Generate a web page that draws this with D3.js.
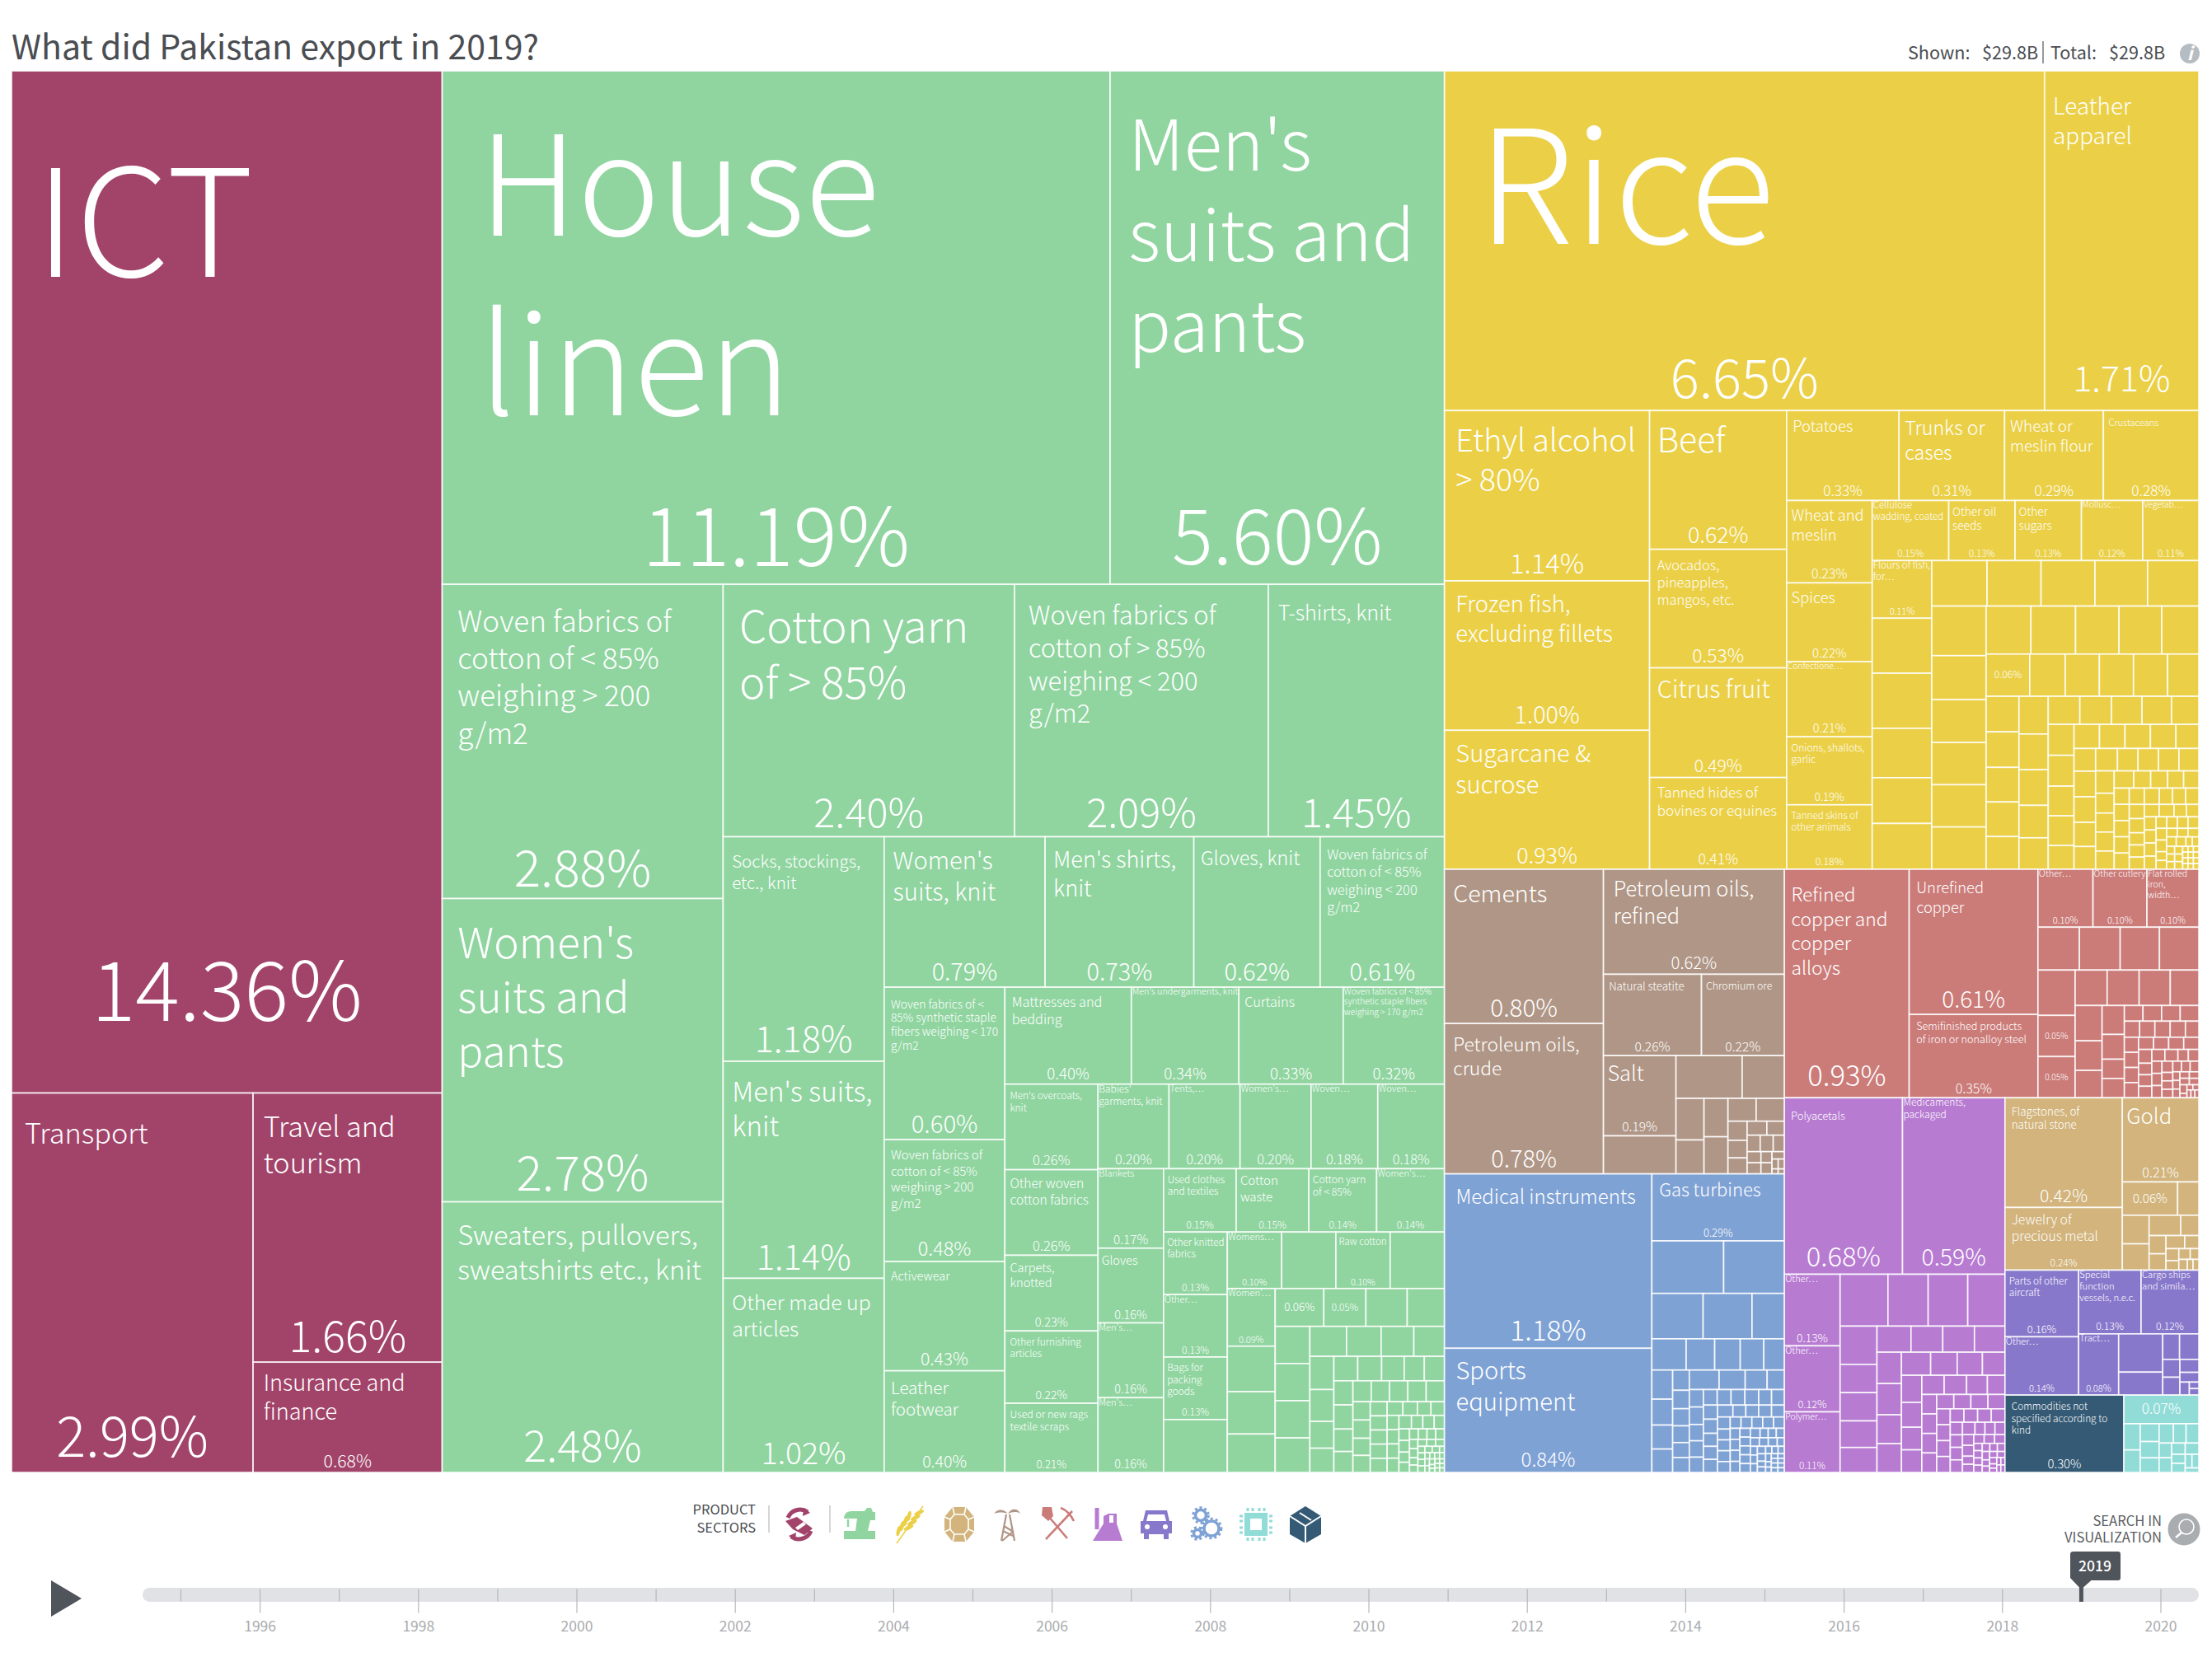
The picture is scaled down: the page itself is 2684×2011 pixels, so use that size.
<!DOCTYPE html>
<html>
<head>
<meta charset="utf-8">
<script src="https://cdnjs.cloudflare.com/ajax/libs/d3/7.8.5/d3.min.js"></script>
<style>
	html, body { margin: 0; padding: 0; background: #fff; }
	svg { display: block; }
	text { font-family: "Noto Sans CJK SC", "Noto Sans", Lato, sans-serif; }
</style>
</head>
<body>
<svg id="chart" width="2684" height="2011"></svg>
<script>
// Share of exports in percent. Tiles with no printed
// value were estimated from their area.
const servicesNames = ['ICT', 'Transport', 'Travel and tourism', 'Insurance and finance'];
const servicesValues = [14.36, 2.99, 1.66, 0.68];

const textileNames = ['House linen', "Men's suits and pants", 'Woven fabrics of cotton of < 85% weighing > 200 g/m2', "Women's suits and pants", 'Sweaters, pullovers, sweatshirts etc., knit',
	'Cotton yarn of > 85%', 'Woven fabrics of cotton of > 85% weighing < 200 g/m2', 'T-shirts, knit', 'Socks, stockings, etc., knit', "Men's suits, knit", 'Other made up articles',
	"Women's suits, knit", "Men's shirts, knit", 'Gloves, knit', 'Woven fabrics of cotton of < 85% weighing < 200 g/m2',
	'Woven fabrics of < 85% synthetic staple fibers weighing < 170 g/m2', 'Woven fabrics of cotton of < 85% weighing > 200 g/m2', 'Activewear', 'Leather footwear',
	'Mattresses and bedding', "Men's undergarments, knit", 'Curtains', 'Woven fabrics of < 85% synthetic staple fibers weighing > 170 g/m2',
	"Men's overcoats, knit", 'Other woven cotton fabrics', 'Carpets, knotted', 'Other furnishing articles', 'Used or new rags textile scraps',
	"Babies' garments, knit", 'Tents,…', "Women's…", 'Woven…', 'Woven…',
	'Blankets', 'Gloves', "Men's…", "Men's…",
	'Used clothes and textiles', 'Cotton waste', 'Cotton yarn of < 85%', "Women's…",
	'Other knitted fabrics', 'Other…', 'Bags for packing goods', null,
	'Womens…', null, 'Raw cotton', null,
	"Women'…", null, null, null,
	'', ''];
const textileValues = [11.19, 5.60, 2.88, 2.78, 2.48,
	2.40, 2.09, 1.45, 1.18, 1.14, 1.02,
	0.79, 0.73, 0.62, 0.61,
	0.60, 0.48, 0.43, 0.40,
	0.40, 0.34, 0.33, 0.32,
	0.26, 0.26, 0.23, 0.22, 0.21,
	0.196, 0.196, 0.196, 0.184, 0.184,
	0.17, 0.16, 0.16, 0.16,
	0.15, 0.15, 0.14, 0.14,
	0.13, 0.13, 0.13, 0.11,
	0.10, 0.10, 0.10, 0.10,
	0.09, 0.071, 0.066, 0.06,
	0.06, 0.052, 0.051, 0.046,
	0.042, 0.042, 0.042, 0.039,
	0.036, 0.034, 0.032, 0.030,
	0.026, 0.025, 0.021, 0.019,
	0.019, 0.019, 0.018, 0.016, 0.016,
	0.015, 0.015, 0.014, 0.013,
	0.0125, 0.0125, 0.0125, 0.0125, 0.0125,
	0.0103, 0.0103, 0.0097, 0.0096,
	0.0078, 0.0078, 0.0078, 0.0078, 0.0078,
	0.007, 0.0065, 0.006, 0.006,
	0.0055, 0.0055, 0.0055, 0.0055, 0.0055,
	0.005, 0.005, 0.0045, 0.004, 0.004,
	0.0035, 0.0035, 0.003, 0.003, 0.003, 0.003,
	0.0025, 0.0025, 0.002, 0.002, 0.002, 0.002, 0.002,
	0.0015, 0.0015, 0.0015, 0.0015, 0.0015, 0.0015,
	0.001, 0.001, 0.001, 0.001, 0.001, 0.001, 0.001, 0.001,
	0.0007, 0.0007, 0.0007, 0.0007, 0.0007, 0.0007, 0.0007, 0.0007];

const agricultureNames = ['Rice', 'Leather apparel', 'Ethyl alcohol > 80%', 'Frozen fish, excluding fillets', 'Sugarcane & sucrose',
	'Beef', 'Avocados, pineapples, mangos, etc.', 'Citrus fruit', 'Tanned hides of bovines or equines',
	'Potatoes', 'Trunks or cases', 'Wheat or meslin flour', 'Crustaceans',
	'Wheat and meslin', 'Spices', 'Confectione…', 'Onions, shallots, garlic', 'Tanned skins of other animals',
	'Cellulose wadding, coated', 'Other oil seeds', 'Other sugars', 'Mollusc…', 'Vegetab…',
	'Flours of fish, for…', null, null, null, null, null,
	null, null, null, null, null,
	null, null, null, null, null, null,
	null, null, null, null, null,
	''];
const agricultureValues = [6.65, 1.71, 1.14, 1.00, 0.93,
	0.62, 0.53, 0.49, 0.41,
	0.33, 0.31, 0.29, 0.28,
	0.23, 0.22, 0.21, 0.19, 0.18,
	0.15, 0.13, 0.13, 0.12, 0.11,
	0.112, 0.107, 0.107, 0.096, 0.089, 0.089,
	0.082, 0.080, 0.080, 0.078, 0.076,
	0.088, 0.078, 0.076, 0.075, 0.075, 0.075,
	0.070, 0.070, 0.068, 0.067, 0.058,
	0.06, 0.049, 0.047, 0.047, 0.047, 0.043,
	0.038, 0.038, 0.037, 0.037, 0.035,
	0.036, 0.034, 0.034, 0.031, 0.030,
	0.029, 0.029, 0.028, 0.027, 0.025,
	0.026, 0.026, 0.025, 0.025, 0.020, 0.020,
	0.020, 0.020, 0.020, 0.018, 0.016,
	0.018, 0.018, 0.017, 0.016, 0.016, 0.015,
	0.015, 0.015, 0.0145, 0.0135, 0.012,
	0.0115, 0.0115, 0.011, 0.011, 0.0095,
	0.0095, 0.009, 0.0085, 0.008, 0.008,
	0.008, 0.008, 0.008, 0.008, 0.008,
	0.007, 0.007, 0.007, 0.007, 0.007,
	0.006, 0.006, 0.006, 0.006, 0.006,
	0.005, 0.005, 0.005, 0.005, 0.005, 0.005,
	0.004, 0.004, 0.004, 0.004, 0.004, 0.004,
	0.003, 0.003, 0.003, 0.003, 0.003, 0.003, 0.003,
	0.002, 0.002, 0.002, 0.002, 0.002, 0.002, 0.002, 0.002,
	0.001, 0.001, 0.001, 0.001, 0.001, 0.001, 0.001, 0.001, 0.001, 0.001, 0.001, 0.001];

const stoneNames = ['Cements', 'Petroleum oils, crude', 'Petroleum oils, refined', 'Natural steatite', 'Chromium ore', 'Salt'];
const stoneValues = [0.80, 0.78, 0.62, 0.26, 0.22, 0.19, 0.09,
	0.0925, 0.059, 0.038, 0.031, 0.030, 0.029, 0.021, 0.021,
	0.012, 0.011, 0.010, 0.009, 0.008, 0.007, 0.007, 0.006, 0.005, 0.005, 0.004, 0.004, 0.003, 0.002, 0.002, 0.001, 0.001];

const machineryNames = ['Medical instruments', 'Sports equipment', 'Gas turbines'];
const machineryValues = [1.18, 0.84, 0.29, 0.123, 0.104,
	0.076, 0.0725, 0.048, 0.035, 0.029, 0.026, 0.024, 0.021,
	0.0198, 0.0176, 0.0163, 0.0159,
	0.011, 0.010, 0.0093, 0.0091, 0.0081, 0.0081,
	0.019, 0.0166, 0.014, 0.011,
	0.008, 0.008, 0.0075, 0.0075, 0.007,
	0.007, 0.007, 0.007, 0.007, 0.0065, 0.0065, 0.0065, 0.0065, 0.006, 0.006, 0.006, 0.006,
	0.005, 0.005, 0.005, 0.005, 0.005, 0.0045, 0.0045, 0.0045, 0.0045, 0.004, 0.004, 0.004, 0.004, 0.004,
	0.0035, 0.0035, 0.0035, 0.0035, 0.003, 0.003, 0.003, 0.003, 0.003, 0.003,
	0.0025, 0.0025, 0.0025, 0.0025, 0.0025, 0.0025, 0.002, 0.002, 0.002, 0.002, 0.002, 0.002,
	0.0015, 0.0015, 0.0015, 0.0015, 0.0015, 0.0015, 0.001, 0.001, 0.001, 0.001, 0.001, 0.001, 0.001, 0.001, 0.001, 0.001];

const metalsNames = ['Refined copper and copper alloys', 'Unrefined copper', 'Semifinished products of iron or nonalloy steel',
	'Other…', 'Other cutlery', 'Flat rolled iron, width…',
	null, null, null, null,
	null, '', ''];
const metalsValues = [0.93, 0.61, 0.35, 0.104, 0.102, 0.098,
	0.058, 0.057, 0.055, 0.055,
	0.055, 0.05, 0.05,
	0.037, 0.037, 0.036, 0.033,
	0.031, 0.026, 0.024,
	0.021, 0.018, 0.014, 0.014,
	0.0095, 0.0095, 0.0095, 0.0095, 0.008, 0.008, 0.008, 0.008,
	0.007, 0.007, 0.007, 0.007, 0.007,
	0.006, 0.006, 0.006, 0.006, 0.006,
	0.005, 0.005, 0.005, 0.005, 0.005,
	0.004, 0.004, 0.004, 0.004, 0.004, 0.004,
	0.003, 0.003, 0.003, 0.003, 0.003, 0.003,
	0.002, 0.002, 0.002, 0.002, 0.002, 0.002, 0.002, 0.002,
	0.001, 0.001, 0.001, 0.001, 0.001, 0.001];

const chemicalsNames = ['Polyacetals', 'Medicaments, packaged', 'Other…', 'Other…', 'Polymer…'];
const chemicalsValues = [0.68, 0.59, 0.13, 0.12, 0.11,
	0.081, 0.068, 0.067, 0.063,
	0.046, 0.034, 0.034, 0.032, 0.030,
	0.029, 0.027, 0.027, 0.026,
	0.025, 0.025, 0.023, 0.023,
	0.022, 0.020, 0.019, 0.017,
	0.018, 0.0165, 0.015, 0.015,
	0.014, 0.014, 0.013, 0.011,
	0.0095, 0.0095, 0.0095, 0.0095,
	0.008, 0.008, 0.008, 0.008,
	0.007, 0.007, 0.007, 0.007,
	0.006, 0.006, 0.006, 0.006,
	0.005, 0.005, 0.005, 0.005, 0.005,
	0.004, 0.004, 0.004, 0.004, 0.004,
	0.003, 0.003, 0.003, 0.003, 0.003,
	0.002, 0.002, 0.002, 0.002, 0.002, 0.002, 0.002, 0.002,
	0.0015, 0.0015, 0.0015, 0.0015, 0.0015,
	0.001, 0.001, 0.001, 0.001, 0.001, 0.001];

const mineralsNames = ['Flagstones, of natural stone', 'Jewelry of precious metal', 'Gold', ''];
const mineralsValues = [0.42, 0.24, 0.21, 0.06, 0.023,
	0.025, 0.023, 0.021,
	0.012, 0.010, 0.009, 0.008, 0.006, 0.005, 0.004, 0.004, 0.003, 0.003, 0.002, 0.002];

const vehiclesNames = ['Parts of other aircraft', 'Other…', 'Special function vessels, n.e.c.', 'Cargo ships and simila…', 'Tract…'];
const vehiclesValues = [0.16, 0.14, 0.13, 0.12, 0.08, 0.055, 0.033, 0.014, 0.016, 0.010, 0.010, 0.008, 0.006, 0.004, 0.002, 0.002];

const otherNames = ['Commodities not specified according to kind'];
const otherValues = [0.30];

const electronicsNames = [''];
const electronicsValues = [0.07, 0.014, 0.012, 0.011, 0.010, 0.009, 0.009, 0.008, 0.008, 0.006, 0.006, 0.005, 0.005, 0.004, 0.004, 0.003, 0.003, 0.002];

const labelYears = [1996, 1998, 2000, 2002, 2004, 2006, 2008, 2010, 2012, 2014, 2016, 2018, 2020];
const minorYears = [1995, 1997, 1999, 2001, 2003, 2005, 2007, 2009, 2011, 2013, 2015, 2017, 2019];
const currentYear = 2019;

// ---- styles ----
const px = 1.712;	// the font sizes below were measured on a 1568 wide copy

const nameFonts = {
	services: [106, 20, 20, 15.8],
	textile: [98.5, 50, 20.5, 30, 19, 31, 18, 14.7, 12, 19.3, 14.5, 17, 15.8, 13.5, 9.6, 8.1, 8.8, 8.5, 12, 9.5, 6.3, 9.5, 6,
		6.9, 9.1, 8.5, 6.9, 7.2, 7, 6.5, 6.5, 6.5, 6.5, 6.5, 8.5, 6.5, 6.5, 7, 8.8, 7.2, 6.5, 6.8, 6.5, 7, 7, 6.5, 7, 6.7, 7, 6.5, 7, 7, 7, 7, 7],
	agriculture: [112, 16.3, 22, 16, 17, 24, 9.6, 17, 10, 10.8, 13.5, 11, 6.5, 10.7, 10.7, 6, 7, 6.8, 6.7, 8, 8, 6, 6, 6.8],
	stone: [16.7, 13.3, 14.8, 7.8, 7.2, 14.8],
	machinery: [14, 17, 12.8],
	metals: [13.3, 10.7, 7.4, 6.5, 6.2, 6.2],
	chemicals: [7.6, 7, 6.5, 6.5, 6.2],
	minerals: [7.8, 9.2, 15],
	vehicles: [6.9, 6.5, 6.6, 6.6, 6.5],
	other: [6.9],
	electronics: [7]
};

// These names start right on the tile edge, the others get some padding
const flushNames = new Set(['Cellulose wadding, coated', "Men's undergarments, knit", 'Woven fabrics of < 85% synthetic staple fibers weighing > 170 g/m2',
	"Babies' garments, knit", 'Tents,…', "Women's…", 'Woven…', 'Blankets', 'Confectione…', 'Flours of fish, for…', 'Mollusc…', 'Vegetab…', 'Other…',
	'Other cutlery', 'Flat rolled iron, width…', 'Medicaments, packaged', 'Polymer…', 'Special function vessels, n.e.c.', 'Cargo ships and simila…',
	'Tract…', "Men's…", 'Womens…', "Women'…"]);

const sectors = [
	{key: 'services', color: '#A2446A', names: servicesNames, values: servicesValues},
	{key: 'textile', color: '#90D5A0', names: textileNames, values: textileValues},
	{key: 'agriculture', color: '#EBD047', names: agricultureNames, values: agricultureValues},
	{key: 'stone', color: '#B09686', names: stoneNames, values: stoneValues},
	{key: 'machinery', color: '#7FA2D5', names: machineryNames, values: machineryValues},
	{key: 'metals', color: '#CB7C79', names: metalsNames, values: metalsValues},
	{key: 'chemicals', color: '#B77BD2', names: chemicalsNames, values: chemicalsValues},
	{key: 'minerals', color: '#D2B47C', names: mineralsNames, values: mineralsValues},
	{key: 'vehicles', color: '#8878CC', names: vehiclesNames, values: vehiclesValues},
	{key: 'other', color: '#355A75', names: otherNames, values: otherValues},
	{key: 'electronics', color: '#92DCD8', names: electronicsNames, values: electronicsValues}
];

const svg = d3.select('#chart');
const treeX = 14, treeY = 86, treeW = 2654, treeH = 1701;

// ---- header ----
svg.append('text').attr('x', 14).attr('y', 72).attr('font-size', 41).attr('fill', '#4a4d52').text('What did Pakistan export in 2019?');
const headerBits = [['Shown:', 2315], ['$29.8B', 2405], ['Total:', 2488], ['$29.8B', 2559]];
svg.selectAll('.head').data(headerBits).enter().append('text')
	.attr('x', d => d[1]).attr('y', 72).attr('font-size', 21.6).attr('fill', '#4a4d52').text(d => d[0]);
svg.append('line').attr('x1', 2479).attr('x2', 2479).attr('y1', 50).attr('y2', 77).attr('stroke', '#555').attr('stroke-width', 1.2);
svg.append('circle').attr('cx', 2657).attr('cy', 65).attr('r', 12).attr('fill', '#b5bcc2');
svg.append('text').attr('x', 2657).attr('y', 73).attr('text-anchor', 'middle').attr('font-size', 22).attr('font-weight', 700)
	.attr('font-style', 'italic').attr('fill', '#fff').text('i');

// ---- treemap ----
const root = d3.hierarchy({
	children: sectors.map(s => ({
		key: s.key, color: s.color,
		children: s.values.map((v, i) => ({value: v, name: s.names[i], font: (nameFonts[s.key][i] || 7) * px}))
	}))
}).sum(d => d.children ? 0 : d.value);

d3.treemap()
	.tile(d3.treemapSquarify.ratio(1))
	.size([treeW, treeH])(root);

const tree = svg.append('g').attr('transform', `translate(${treeX},${treeY})`);
const leaves = tree.selectAll('g').data(root.leaves()).enter().append('g');

leaves.append('rect')
	.attr('x', d => d.x0).attr('y', d => d.y0)
	.attr('width', d => d.x1 - d.x0).attr('height', d => d.y1 - d.y0)
	.attr('fill', d => d.parent.data.color)
	.attr('stroke', '#fff').attr('stroke-opacity', 0.85).attr('stroke-width', 1.7);

// Canvas is only used to measure text
const ctx = document.createElement('canvas').getContext('2d');
function textWidth(str, size) {
	ctx.font = `300 ${size}px "Noto Sans CJK SC"`;
	return ctx.measureText(str).width;
}
function wrap(str, size, maxW) {
	const lines = [];
	let line = '';
	str.split(' ').forEach(word => {
		const next = line ? line + ' ' + word : word;
		if (line && textWidth(next, size) > maxW) { lines.push(line); line = word; }
		else line = next;
	});
	lines.push(line);
	return lines;
}

const labelled = leaves.filter(d => d.data.name !== undefined && d.data.name !== null);

labelled.each(function(d) {
	const g = d3.select(this),
		w = d.x1 - d.x0,
		h = d.y1 - d.y0,
		cx = (d.x0 + d.x1) / 2,
		share = d.data.value.toFixed(2) + '%',
		em = textWidth(share, 100) / 100;

	// Tile with only a share: centred
	if (d.data.name === '') {
		const size = Math.min(0.63 * w / em, h * 0.5);
		g.append('text').attr('class', 'share').attr('x', cx).attr('y', (d.y0 + d.y1) / 2 + size * 0.33)
			.attr('text-anchor', 'middle').attr('font-size', size).attr('font-weight', 300).attr('fill', '#fff').text(share);
		return;
	}

	const size = Math.min(0.63 * w / em, h / 6.3);
	g.append('text').attr('class', 'share').attr('x', cx)
		.attr('y', d.y1 - h / 11.8 + size * 0.33 - 2 - Math.max(0, h - 700) * 0.025)
		.attr('text-anchor', 'middle').attr('font-size', size).attr('font-weight', 300).attr('fill', '#fff').text(share);

	const flush = flushNames.has(d.data.name),
		pad = flush ? 1 : 0.055 * w,
		font = d.data.font,
		leading = font < 15 ? 1.22 : 1.29,
		first = d.y0 + (flush ? 0.85 * font : 0.96 * font + 0.06 * h + 1);
	wrap(d.data.name, font, w - pad * (flush ? 1 : 1.8)).forEach((line, i) => {
		g.append('text').attr('class', 'name').attr('x', d.x0 + pad).attr('y', first + i * font * leading)
			.attr('font-size', font).attr('font-weight', 300).attr('fill', '#fff').text(line);
	});
});

// ---- sector legend ----
svg.selectAll('.legend').data(['PRODUCT', 'SECTORS']).enter().append('text')
	.attr('x', 917).attr('y', (d, i) => 1838 + i * 22).attr('text-anchor', 'end')
	.attr('font-size', 16.5).attr('fill', '#4a4d52').text(d => d);
svg.selectAll('.divider').data([933, 1007]).enter().append('line')
	.attr('x1', d => d).attr('x2', d => d).attr('y1', 1827).attr('y2', 1860)
	.attr('stroke', '#bbb').attr('stroke-width', 1.2);

const icons = [
	{x: 970, draw: g => {
		g.append('path').attr('d', 'M-14 -8A16 16 0 0 1 10 -15M14 8A16 16 0 0 1 -10 15').attr('fill', 'none').attr('stroke', '#A2446A').attr('stroke-width', 5);
		g.append('path').attr('d', 'M-17 -4L-3 -9L16 5L6 13L-8 6Z').attr('fill', '#A2446A');
		g.append('path').attr('d', 'M-5 4L5 -3L8 0L-2 7Z').attr('fill', '#fff');
		g.append('path').attr('d', 'M5 -20L13 -14L4 -10ZM-5 20L-13 14L-4 10Z').attr('fill', '#A2446A');
	}},
	{x: 1043, draw: g => {
		g.append('path').attr('d', 'M-19 -6Q-19 -16 -10 -16H6L9 -20H14L16 -15H19V-5H13L10 8H19V18H-19V8H-5L-3 -7H-19Z').attr('fill', '#90D5A0');
		g.append('path').attr('d', 'M-14 -6V3').attr('stroke', '#90D5A0').attr('stroke-width', 2.5);
	}},
	{x: 1103, draw: g => {
		g.append('path').attr('d', 'M-15 23L17 -22').attr('stroke', '#EBD047').attr('stroke-width', 1.5);
		g.selectAll('.grainA').data([-7, -1, 5, 11]).enter().append('ellipse')
			.attr('cx', d => -d * 0.7 - 5).attr('cy', d => d - 3).attr('rx', 2.4).attr('ry', 6.5)
			.attr('transform', d => `rotate(15 ${-d * 0.7 - 5} ${d - 3})`).attr('fill', '#EBD047');
		g.selectAll('.grainB').data([-13, -7, -1, 5]).enter().append('ellipse')
			.attr('cx', d => -d * 0.7 + 3).attr('cy', d => d - 1).attr('rx', 2.4).attr('ry', 6.5)
			.attr('transform', d => `rotate(65 ${-d * 0.7 + 3} ${d - 1})`).attr('fill', '#EBD047');
	}},
	{x: 1164, draw: g => {
		g.append('path').attr('d', 'M-8 -21H8L18 -9V9L8 21H-8L-18 9V-9Z').attr('fill', '#D2B47C');
		g.append('path').attr('d', 'M-6 -12H6L11 -6V6L6 12H-6L-11 6V-6ZM-6 -12L-8 -21M6 -12L8 -21M-6 12L-8 21M6 12L8 21M-11 -6L-18 -9M11 -6L18 -9M-11 6L-18 9M11 6L18 9')
			.attr('fill', 'none').attr('stroke', '#fff').attr('stroke-width', 1.6);
	}},
	{x: 1223, draw: g => {
		g.append('path').attr('d', 'M-2 -12L-8 20M2 -12L8 20M-6 8L6 14M-5 2L5 8M-7 20L7 8').attr('fill', 'none').attr('stroke', '#B09686').attr('stroke-width', 2.2);
		g.append('path').attr('d', 'M0 -13C-6 -20 -14 -18 -17 -13C-12 -15 -5 -15 0 -13ZM0 -13C4 -20 12 -20 15 -13C11 -16 5 -15 0 -13Z').attr('fill', '#B09686');
	}},
	{x: 1283, draw: g => {
		g.append('path').attr('d', 'M-11 -10L12 17M18 -16L-14 18M4 -20C12 -17 16 -12 20 -4').attr('fill', 'none').attr('stroke', '#CB7C79').attr('stroke-width', 2.6);
		g.append('path').attr('d', 'M-18 -21H-7L-5 -10L-11 -4L-19 -11Z').attr('fill', '#CB7C79');
	}},
	{x: 1344, draw: g => {
		g.append('path').attr('d', 'M-13 -20V6').attr('stroke', '#B77BD2').attr('stroke-width', 5);
		g.append('path').attr('d', 'M1 -13H11V-1L18 20H-18L-5 -1V-10').attr('fill', '#B77BD2');
		g.append('path').attr('d', 'M2 -11H7V-2H2Z').attr('fill', '#fff');
	}},
	{x: 1403, draw: g => {
		g.append('path').attr('d', 'M-13 -17H13L16 -4H19V11H15V18H9V12H-9V18H-15V11H-19V-4H-16Z').attr('fill', '#8878CC');
		g.append('path').attr('d', 'M-10 -12H10L12 -4H-12Z').attr('fill', '#fff');
		g.selectAll('circle').data([-11, 11]).enter().append('circle').attr('cx', d => d).attr('cy', 3).attr('r', 3).attr('fill', '#fff');
	}},
	{x: 1463, draw: g => {
		const gears = [[-6, -11, 6.5], [7, 5, 9], [-10, 11, 4.5]];
		g.selectAll('.body').data(gears).enter().append('circle')
			.attr('cx', d => d[0]).attr('cy', d => d[1]).attr('r', d => d[2])
			.attr('fill', 'none').attr('stroke', '#7FA2D5').attr('stroke-width', 3.5);
		g.selectAll('.teeth').data(gears).enter().append('circle')
			.attr('cx', d => d[0]).attr('cy', d => d[1]).attr('r', d => d[2] + 2.8)
			.attr('fill', 'none').attr('stroke', '#7FA2D5').attr('stroke-width', 3).attr('stroke-dasharray', '3 3');
	}},
	{x: 1524, draw: g => {
		g.append('rect').attr('x', -14).attr('y', -14).attr('width', 28).attr('height', 28).attr('fill', '#92DCD8');
		g.append('rect').attr('x', -7).attr('y', -7).attr('width', 14).attr('height', 14).attr('fill', '#fff');
		g.append('path').attr('d', 'M-10 -20V-16M-4 -20V-16M4 -20V-16M10 -20V-16M-10 16V20M-4 16V20M4 16V20M10 16V20M-20 -10H-16M-20 -4H-16M-20 4H-16M-20 10H-16M16 -10H20M16 -4H20M16 4H20M16 10H20')
			.attr('stroke', '#92DCD8').attr('stroke-width', 3);
	}},
	{x: 1584, draw: g => {
		g.append('path').attr('d', 'M0 -22L19 -10V12L0 23L-19 12V-10Z').attr('fill', '#355A75');
		g.append('path').attr('d', 'M-19 -10L0 2L19 -10M0 2V23M-7 -14L7 -5').attr('fill', 'none').attr('stroke', '#fff').attr('stroke-width', 2);
	}}
];
icons.forEach(ic => {
	ic.draw(svg.append('g').attr('transform', `translate(${ic.x},1850)`));
});

// ---- search ----
svg.selectAll('.search').data(['SEARCH IN', 'VISUALIZATION']).enter().append('text')
	.attr('x', 2623).attr('y', (d, i) => 1852 + i * 19.5).attr('text-anchor', 'end')
	.attr('font-size', 16.6).attr('fill', '#5a5d62').text(d => d);
svg.append('circle').attr('cx', 2650).attr('cy', 1856).attr('r', 19.5).attr('fill', '#a9adb0');
svg.append('circle').attr('cx', 2653).attr('cy', 1853).attr('r', 9).attr('fill', 'none').attr('stroke', '#fff').attr('stroke-width', 1.6);
svg.append('line').attr('x1', 2647).attr('y1', 1860).attr('x2', 2640).attr('y2', 1866).attr('stroke', '#fff').attr('stroke-width', 2.5);

// ---- timeline ----
const years = d3.scaleLinear().domain([1995, 2020]).range([219, 2621.5]);

svg.append('path').attr('d', 'M62 1918L99 1940L62 1962Z').attr('fill', '#50545b');
svg.append('rect').attr('x', 173).attr('y', 1927).attr('width', 2495).attr('height', 17).attr('rx', 8.5).attr('fill', '#e1e2e5');

const minorAxis = svg.append('g').attr('transform', 'translate(0,1928.5)')
	.call(d3.axisBottom(years).tickValues(minorYears).tickSize(15).tickFormat(''));
const majorAxis = svg.append('g').attr('transform', 'translate(0,1928.5)')
	.call(d3.axisBottom(years).tickValues(labelYears).tickSize(29).tickPadding(10).tickFormat(d3.format('d')));
[minorAxis, majorAxis].forEach(a => {
	a.select('.domain').remove();
	a.selectAll('line').attr('stroke', '#b4b7ba').attr('stroke-width', 1.2);
});
majorAxis.selectAll('text').attr('font-size', 17.5).attr('fill', '#a9abae').attr('font-family', null);

// Marker of the shown year
const markX = years(currentYear);
svg.append('line').attr('x1', markX).attr('x2', markX).attr('y1', 1915).attr('y2', 1944).attr('stroke', '#50545b').attr('stroke-width', 5);
svg.append('path').attr('d', `M2516 1883H2570Q2573 1883 2573 1886V1915Q2573 1918 2570 1918H${markX + 12}L${markX + 2} 1927H${markX - 2}V1927L2512 1915V1886Q2512 1883 2516 1883Z`).attr('fill', '#50545b');
svg.append('text').attr('x', 2542).attr('y', 1907).attr('text-anchor', 'middle').attr('font-size', 17.5).attr('font-weight', 500).attr('fill', '#fff').text(currentYear);
</script>
</body>
</html>
